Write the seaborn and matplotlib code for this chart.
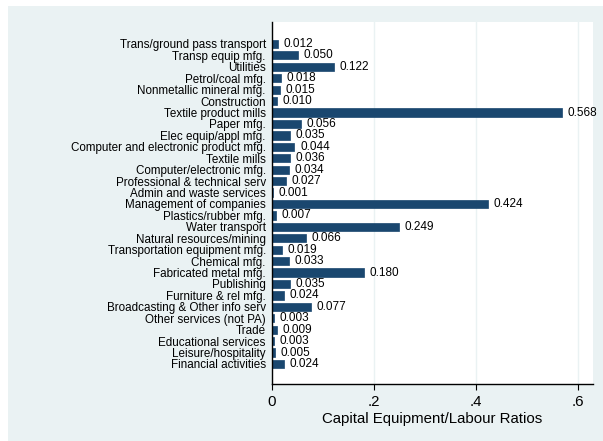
import matplotlib
matplotlib.use("Agg")
import matplotlib.pyplot as plt
import seaborn as sns
from matplotlib.patches import Rectangle

industries = [
    "Trans/ground pass transport", "Transp equip mfg.", "Utilities",
    "Petrol/coal mfg.", "Nonmetallic mineral mfg.", "Construction",
    "Textile product mills", "Paper mfg.", "Elec equip/appl mfg.",
    "Computer and electronic product mfg.", "Textile mills",
    "Computer/electronic mfg.", "Professional & technical serv",
    "Admin and waste services", "Management of companies",
    "Plastics/rubber mfg.", "Water transport", "Natural resources/mining",
    "Transportation equipment mfg.", "Chemical mfg.", "Fabricated metal mfg.",
    "Publishing", "Furniture & rel mfg.", "Broadcasting & Other info serv",
    "Other services (not PA)", "Trade", "Educational services",
    "Leisure/hospitality", "Financial activities",
]
ratios = [
    0.012, 0.050, 0.122, 0.018, 0.015, 0.010, 0.568, 0.056, 0.035, 0.044,
    0.036, 0.034, 0.027, 0.001, 0.424, 0.007, 0.249, 0.066, 0.019, 0.033,
    0.180, 0.035, 0.024, 0.077, 0.003, 0.009, 0.003, 0.005, 0.024,
]
x_ticks = [0, 0.2, 0.4, 0.6]
x_ticklabels = ["0", ".2", ".4", ".6"]

navy = "#1a476f"
bg = "#eaf2f3"

plt.rcParams["font.family"] = ["Liberation Sans", "DejaVu Sans"]

fig = plt.figure(figsize=(6.03, 4.41), dpi=100)
fig.patches.append(Rectangle((8 / 603, 0), 1, 435 / 441, transform=fig.transFigure,
                             facecolor=bg, edgecolor="none", zorder=-1))
ax = fig.add_axes([272 / 603, 57 / 441, 321 / 603, 362 / 441])
ax.set_zorder(2)
ax.set_facecolor("white")

sns.barplot(x=ratios, y=industries, color=navy, width=0.72, edgecolor=navy,
            linewidth=0.5, saturation=1, orient="h", ax=ax)

n = len(industries)
for i, v in enumerate(ratios):
    ax.annotate(f"{v:.3f}", xy=(v, i), xytext=(4, 0), textcoords="offset points",
                va="center", ha="left", fontsize=8.5, color="black")

ax.set_xlim(0, 0.629)
ax.set_ylim(n - 1 + 1.75, -1.92)
ax.set_xticks(x_ticks)
ax.set_xticklabels(x_ticklabels, fontsize=10.8)
ax.tick_params(axis="x", length=4, width=0.8, pad=4, color="black")
ax.tick_params(axis="y", length=0, pad=4.5, labelsize=8.4)
ax.grid(axis="x", color=bg, linewidth=1)
ax.set_axisbelow(True)
for s in ["top", "right"]:
    ax.spines[s].set_visible(False)
ax.spines["left"].set_linewidth(1)
ax.spines["bottom"].set_linewidth(1)
ax.set_xlabel("Capital Equipment/Labour Ratios", fontsize=10.8, labelpad=2)
ax.set_ylabel("")

fig.savefig("out.png", dpi=100)
